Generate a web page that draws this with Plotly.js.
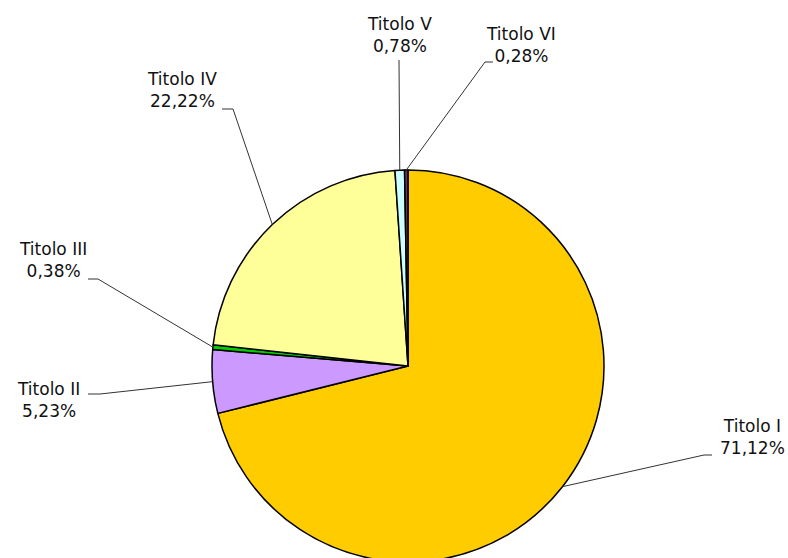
<!DOCTYPE html>
<html><head><meta charset="utf-8">
<script src="https://cdn.plot.ly/plotly-3.0.1.min.js"></script>
<style>html,body{margin:0;padding:0;overflow:hidden;background:#fff;width:788px;height:558px}</style>
</head><body><div id="chart" style="width:788px;height:562px"></div>
<script>
// Data
var categories = ["Titolo I", "Titolo II", "Titolo III", "Titolo IV", "Titolo V", "Titolo VI"];
var values = [71.12, 5.23, 0.38, 22.22, 0.78, 0.28];
var colors = ["#FFCC00", "#CC99FF", "#00CC00", "#FFFF99", "#CCFFFF", "#663366"];

// Layout constants (pixels)
var W = 788, H = 562;
var cx = 408, cy = 366, R = 196;
// label block centres and leader elbow points (layout)
var labelPos = [[752, 437], [48, 400], [53, 260], [182, 90], [399, 35], [521, 45]];
var elbows = [
  [[712, 455], [704, 455]],
  [[88, 394], [100, 394]],
  [[88, 279], [98, 279]],
  [[222, 109], [233, 109]],
  [[399, 60], [399, 60]],
  [[493, 62], [485, 62]]
];

function px2x(x){ return x / W; }
function px2y(y){ return 1 - y / H; }
function fmt(v){ return v.toFixed(2).replace('.', ',') + '%'; }

var total = values.reduce(function(a,b){return a+b;}, 0);
var cum = 0;
var shapes = [], annotations = [];
values.forEach(function(v, i){
  var mid = (cum + v/2) / total;
  cum += v;
  var ang = mid * 2 * Math.PI;
  var ex = cx + R * Math.sin(ang), ey = cy - R * Math.cos(ang);
  var e = elbows[i];
  var path = 'M ' + px2x(e[0][0]) + ' ' + px2y(e[0][1]) +
             ' L ' + px2x(e[1][0]) + ' ' + px2y(e[1][1]) +
             ' L ' + px2x(ex) + ' ' + px2y(ey);
  shapes.push({type:'path', xref:'paper', yref:'paper', path: path,
    line:{color:'#333333', width:1}});
  annotations.push({xref:'paper', yref:'paper', x: px2x(labelPos[i][0]), y: px2y(labelPos[i][1]),
    xanchor:'center', yanchor:'middle', align:'center', showarrow:false,
    text: categories[i] + '<br>' + fmt(v),
    font:{family:'DejaVu Sans, Verdana, sans-serif', size:17, color:'#111111'}});
});

var trace = {
  type:'pie', labels: categories, values: values, sort:false, direction:'clockwise', rotation:0,
  marker:{colors: colors, line:{color:'#000000', width:1.5}},
  textinfo:'none', hoverinfo:'label+percent', showlegend:false,
  domain:{x:[(cx-R)/W, (cx+R)/W], y:[0, (H-(cy-R))/H]}
};

var layout = {
  width: W, height: H,
  margin:{l:0, r:0, t:0, b:0},
  paper_bgcolor:'#ffffff', plot_bgcolor:'#ffffff',
  showlegend:false,
  shapes: shapes, annotations: annotations
};
Plotly.newPlot('chart', [trace], layout, {displayModeBar:false, staticPlot:true});
</script></body></html>
